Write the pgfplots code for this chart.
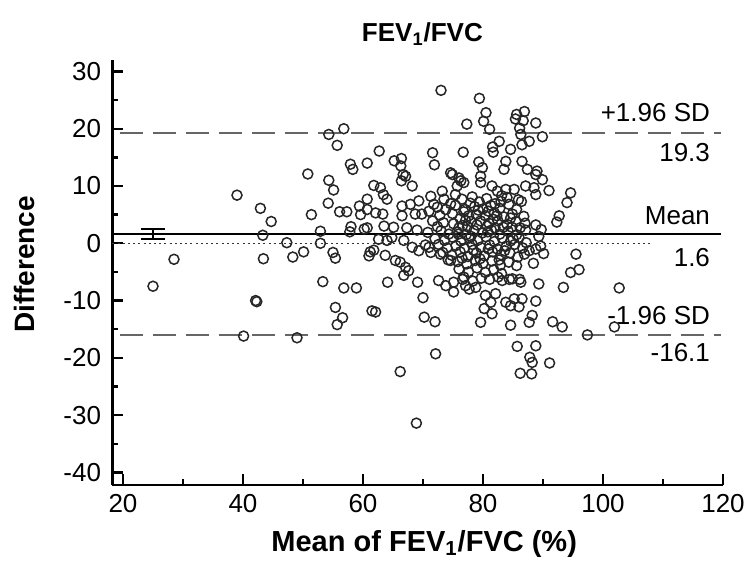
\documentclass[border=0pt]{standalone}
\usepackage{fontspec}
\setmainfont{Liberation Sans}
\usepackage{pgfplots}
\usepackage{pgfplotstable}
\pgfplotsset{compat=1.18}
\pgfplotstableread{
x y
25.0 -7.5
28.5 -2.8
39.0 8.4
40.1 -16.2
42.1 -10.0
42.3 -10.2
42.9 6.1
44.7 3.8
43.3 1.4
43.4 -2.7
47.3 0.1
48.3 -2.4
49.0 -16.5
50.1 -1.5
50.8 12.1
51.4 5.0
52.9 2.1
52.9 0.0
53.3 -6.7
54.3 19.0
54.3 11.0
54.2 7.0
55.7 17.1
56.8 20.0
55.1 9.3
55.0 -1.6
55.4 -2.6
56.8 -7.8
58.9 -7.8
55.4 -11.2
56.6 -13.0
55.7 -14.2
57.9 13.8
58.3 12.9
60.7 14.0
56.1 5.5
57.3 5.5
57.8 2.0
59.4 6.5
60.7 7.7
60.7 5.9
59.6 5.0
60.7 2.7
61.0 -2.2
61.2 -1.5
61.8 -1.2
61.5 -11.8
62.1 -12.0
62.7 16.1
61.8 10.1
62.9 9.7
63.4 8.5
64.0 7.7
62.1 5.3
63.3 5.1
65.2 14.4
66.4 14.8
66.3 13.5
66.7 12.0
66.4 10.9
67.1 11.7
68.2 10.0
66.5 6.5
66.5 4.8
67.9 6.8
69.3 7.4
68.7 5.1
69.8 5.1
62.6 0.7
64.0 0.5
63.7 -2.1
65.4 -3.0
66.2 -3.3
67.1 -4.2
67.6 -4.8
66.8 -5.6
64.1 -6.8
69.1 -6.8
70.0 -9.5
70.2 -12.9
72.0 -13.7
72.1 -19.3
66.2 -22.4
68.9 -31.4
64.8 1.0
66.8 0.5
68.2 -0.7
69.3 -1.3
71.3 -1.6
71.0 -0.7
71.6 15.8
71.9 13.7
73.0 26.7
79.4 25.3
80.5 22.8
80.1 21.3
77.3 20.8
81.1 19.9
85.6 22.5
86.9 23.0
85.4 21.7
86.7 21.4
88.8 21.0
86.1 20.1
86.3 19.0
89.9 18.6
87.7 17.8
86.5 17.2
82.7 17.8
81.6 16.8
81.7 15.9
84.6 16.4
76.7 15.9
79.3 14.2
83.8 14.3
83.5 12.9
86.5 14.3
87.4 12.9
89.0 12.6
89.9 11.1
91.0 9.2
88.8 12.0
79.9 13.2
79.6 11.7
79.6 10.6
81.5 10.0
82.4 9.1
83.8 9.4
85.2 9.4
84.0 8.0
87.1 10.0
88.5 9.7
88.8 8.5
94.6 8.8
94.0 7.1
92.7 4.8
92.3 3.7
74.9 12.0
76.0 11.4
75.7 10.0
76.8 10.6
74.6 12.3
76.3 10.9
71.3 8.2
71.8 6.8
71.0 5.6
73.2 9.1
73.5 7.7
73.8 5.9
75.4 8.5
76.5 7.7
75.4 6.6
77.0 5.9
76.2 4.3
77.6 4.8
95.5 -1.9
94.6 -5.1
96.0 -4.6
93.4 -7.7
102.7 -7.8
89.3 -7.1
83.2 -6.5
84.9 -6.2
86.3 -6.8
88.8 -10.1
80.4 -9.1
82.1 -8.8
81.3 -10.3
80.2 -11.4
81.5 -12.3
79.6 -13.8
83.8 -10.3
85.2 -9.7
86.5 -9.7
86.0 -11.1
84.6 -10.9
88.2 -12.6
87.7 -13.8
84.6 -14.3
91.6 -13.7
93.2 -14.6
97.4 -16.0
101.9 -14.6
85.7 -18.0
88.8 -17.9
87.8 -19.9
88.2 -20.8
91.1 -20.9
86.2 -22.7
88.1 -22.8
72.6 -6.5
73.8 -7.4
75.1 -6.8
75.1 -8.5
74.6 -3.0
76.8 -5.9
77.1 -7.4
76.6 -6.3
78.3 -6.6
77.7 -8.0
78.8 -7.7
84.4 -6.3
86.1 -6.3
87.7 -1.3
88.8 -1.0
86.9 -1.9
87.2 0.1
72.9 -1.9
78.2 8.1
80.6 7.8
83.1 8.3
79.4 7.2
82.0 6.9
85.9 7.6
72.4 6.3
74.6 6.9
78.6 6.4
80.0 6.0
81.3 6.6
82.8 6.1
84.3 6.8
85.6 5.9
86.4 7.3
72.8 4.9
74.9 5.2
78.9 5.0
80.4 4.8
81.9 5.3
83.5 4.6
84.9 5.1
86.8 4.7
71.6 3.9
73.4 3.6
75.1 3.4
78.0 3.8
79.6 3.9
81.0 3.5
82.5 3.9
84.0 3.3
85.5 3.8
87.0 3.5
88.8 3.2
69.0 2.3
72.4 2.9
76.0 2.7
76.6 3.1
80.7 3.0
83.4 2.8
86.2 2.7
58.0 2.9
60.2 2.5
63.5 3.0
65.1 2.8
67.3 2.7
70.8 1.9
73.0 2.2
74.3 1.6
75.7 2.0
77.2 1.5
78.5 2.2
79.9 1.8
81.4 2.3
82.8 1.6
84.2 2.1
85.6 1.5
87.1 2.3
89.7 2.4
72.0 0.8
73.6 0.5
75.0 1.0
76.3 0.4
77.7 0.9
79.1 0.5
80.5 1.1
81.9 0.3
83.2 0.9
84.6 0.4
86.0 1.0
89.3 1.2
70.4 -0.3
72.6 -0.2
74.0 -0.8
75.5 -0.4
76.9 -0.9
78.2 -0.2
79.6 -0.7
81.1 -0.3
82.4 -1.0
83.9 -0.5
85.3 -0.2
86.6 -0.8
89.6 -0.5
73.3 -1.6
74.8 -2.1
76.2 -1.5
77.5 -2.3
78.9 -1.7
80.2 -2.2
81.6 -1.5
83.0 -2.0
84.5 -1.7
85.8 -2.4
90.1 -1.8
75.8 -3.2
77.3 -3.6
78.7 -3.0
80.0 -3.5
81.5 -3.1
82.9 -3.8
84.3 -3.3
85.6 -3.9
88.4 -3.5
76.0 -4.5
77.6 -5.0
79.0 -4.3
80.4 -5.1
81.8 -4.6
83.1 -5.3
79.7 -6.1
81.1 -6.3
82.5 -5.9
76.8 5.5
79.2 5.8
81.7 4.2
84.6 4.4
77.4 2.9
79.0 3.2
82.0 2.7
84.8 2.8
78.0 1.2
80.9 -1.0
82.7 -2.9
79.5 -2.7
76.5 -2.6
74.2 -2.9
77.9 7.0
80.9 5.6
83.0 7.3
75.9 1.6
78.4 -1.2
80.8 2.0
83.6 -1.3
85.0 0.8
77.1 4.0
82.3 4.8
}\datatable
\begin{document}
\begin{tikzpicture}
\useasboundingbox (-56.25pt,-38pt) rectangle (315.75pt,242.5pt);
\begin{axis}[
  at={(0,0)}, anchor=south west, scale only axis,
  width=305.25pt, height=212.5pt,
  xmin=18.25, xmax=120, ymin=-42.2, ymax=32,
  axis lines=left, axis line style={line width=1.2pt, -},
  xtick={20,40,...,120}, ytick={-40,-30,...,30},
  minor xtick={30,50,...,110}, minor ytick={-35,-25,...,25},
  tick align=inside, major tick length=5.5pt, minor tick length=3pt,
  tick style={line width=1.2pt, black},
  ticklabel style={font=\fontsize{13}{15}\selectfont},
  yticklabel style={xshift=-2.2pt},
  xticklabel style={yshift=-1pt},
  /pgf/number format/assume math mode=true,
  clip=false,
]
\addplot[black!60, line width=1pt, dash pattern=on 11.5pt off 5pt] coordinates {(19.5,19.3) (119.7,19.3)};
\addplot[black!60, line width=1pt, dash pattern=on 11.5pt off 5pt] coordinates {(19.5,-16.1) (119.7,-16.1)};
\addplot[black!80, line width=0.7pt, dash pattern=on 1pt off 1.6pt] coordinates {(18.25,0) (107.8,0)};
\addplot[black, line width=1.2pt] coordinates {(18.25,1.6) (119.7,1.6)};
\addplot[black, line width=1.1pt] coordinates {(25,0.75) (25,2.45)};
\addplot[black, line width=1.1pt] coordinates {(23,2.45) (27,2.45)};
\addplot[black, line width=1.1pt] coordinates {(23,0.75) (27,0.75)};
\addplot[only marks, mark=o, mark size=2.5pt, mark options={line width=0.75pt, draw=black!85}] table {\datatable};
\node[anchor=base east, font=\fontsize{13}{15}\selectfont] at (axis cs:119,21.25) {+1.96 SD};
\node[anchor=base east, font=\fontsize{13}{15}\selectfont] at (axis cs:119,14.3) {19.3};
\node[anchor=base east, font=\fontsize{13}{15}\selectfont] at (axis cs:119,3.3) {Mean};
\node[anchor=base east, font=\fontsize{13}{15}\selectfont] at (axis cs:119,-4.0) {1.6};
\node[anchor=base east, font=\fontsize{13}{15}\selectfont] at (axis cs:119,-14.1) {-1.96 SD};
\node[anchor=base east, font=\fontsize{13}{15}\selectfont] at (axis cs:119,-20.6) {-16.1};
\node[anchor=base, font=\bfseries\fontsize{13}{15}\selectfont] at (axis cs:69.9,35.2) {FEV\textsubscript{1}/FVC};
\node[anchor=base, font=\bfseries\fontsize{14.5}{17}\selectfont] at (axis cs:70.2,-53.8) {Mean of FEV\textsubscript{1}/FVC (\%)};
\node[anchor=base, rotate=90, font=\bfseries\fontsize{14}{16}\selectfont] at (axis cs:5.3,-3.7) {Difference};
\end{axis}
\end{tikzpicture}
\end{document}
